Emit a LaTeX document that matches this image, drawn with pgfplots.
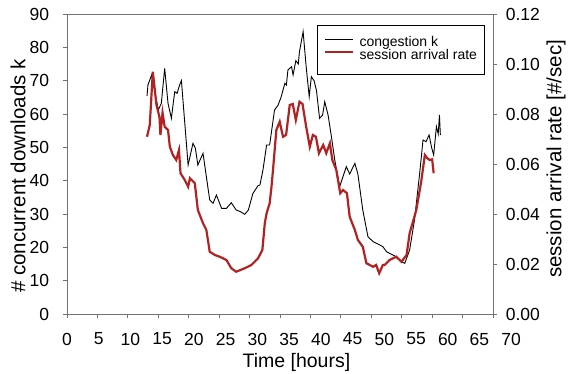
\documentclass[border=0pt]{standalone}
\usepackage{pgfplots}
\pgfplotsset{compat=1.18}
\usepackage{fontspec}
\setmainfont{Liberation Sans}
\definecolor{myred}{RGB}{178,34,34}
\definecolor{axgray}{RGB}{115,115,115}
\begin{document}
\fontsize{17}{20}\selectfont
\begin{tikzpicture}
\begin{axis}[
  at={(0,0)}, anchor=south west,
  scale only axis, width=426pt, height=300pt,
  xmin=0, xmax=70, ymin=0, ymax=90,
  xtick={0,5,10,15,20,25,30,35,40,45,50,55,60,65,70},
  ytick={0,10,20,30,40,50,60,70,80,90},
  axis line style={axgray, line width=0.8pt},
  tick style={axgray, line width=0.8pt},
  tick align=outside, major tick length=4pt,
  xtick pos=bottom, ytick pos=left,
  /pgf/number format/assume math mode=true,
  tick label style={font=\fontsize{17.5}{20}\selectfont},
  xticklabel style={yshift=-9pt, xshift=\ticknum*1.3pt},
  yticklabel style={xshift=-8pt},
  xlabel={Time [hours]}, ylabel={\# concurrent downloads k},
  xlabel style={font=\fontsize{19.5}{22}\selectfont, at={(axis description cs:0.5385,-0.163)}, anchor=center},
  ylabel style={font=\fontsize{20.5}{22}\selectfont, at={(axis description cs:-0.115,0.46)}, anchor=center},
]
\addplot[black, line width=0.9pt] coordinates {
(13.15,65.4) (13.3,68.7) (13.9,71.7) (14.4,67) (15.0,61.2) (15.5,63.2)
(16.05,73.7) (16.6,63.2) (17.15,58.7) (17.7,66.7) (18.1,66.2) (18.5,68.7)
(18.8,70) (19.9,44.7) (20.7,51.2) (21.1,49.7) (21.5,44.7) (22.35,48.2)
(23.45,34.2) (24.0,33.2) (24.55,35.7) (25.4,31.7) (26.2,31.7) (27.0,33.4)
(27.8,31.2) (28.5,30.7) (29.2,29.9) (29.8,31.2) (30.55,36.2) (31.4,38.5)
(31.7,38.7) (32.2,43.2) (32.8,50.7) (33.3,50.7) (34.1,61.2) (34.7,62.7)
(35.2,65.2) (35.8,69.2) (36.05,68.7) (36.3,73.2) (36.9,74.2) (37.15,71.7)
(37.6,76) (38.0,75) (38.2,78.7) (38.8,84.7) (39.3,74.2) (39.8,65.2)
(40.15,71.2) (40.6,70) (41.0,67) (41.5,58.7) (42.0,59.7) (42.35,63.7)
(42.9,59.7) (43.45,53.2) (44.0,46.2) (44.8,38.2) (45.35,41.2) (45.9,44.2)
(46.45,42) (47.3,45.2) (47.8,42) (48.6,31.2) (49.45,23.2) (50.3,21.7)
(51.1,21) (51.9,20.2) (52.5,18.7) (53.0,18.2) (54.1,17.2) (54.95,15.7)
(55.5,15.2) (56.3,19.2) (57.1,28.2) (57.95,42.2) (58.5,52.2) (59.0,51.7)
(59.5,53.7) (59.9,50) (60.25,47.7) (60.7,56.2) (61.0,54) (61.2,59.7)
(61.35,53.7)
};
\end{axis}
\begin{axis}[
  at={(0,0)}, anchor=south west,
  scale only axis, width=426pt, height=300pt,
  xmin=0, xmax=70, ymin=0, ymax=0.12,
  axis x line=none, axis y line*=right,
  axis line style={axgray, line width=0.8pt, -},
  tick style={axgray, line width=0.8pt},
  tick align=outside, major tick length=4pt,
  ytick={0,0.02,0.04,0.06,0.08,0.10,0.12},
  /pgf/number format/assume math mode=true,
  yticklabel style={font=\fontsize{17.5}{20}\selectfont, xshift=3pt,
    /pgf/number format/.cd, fixed, fixed zerofill, precision=2},
  scaled y ticks=false,
  ylabel={session arrival rate [\#/sec]},
  ylabel style={font=\fontsize{20.5}{22}\selectfont, at={(axis description cs:1.148,0.517)}, anchor=center, rotate=0},
  legend cell align=left,
  legend style={at={(axis description cs:0.587,0.963)}, anchor=north west,
    draw=black, line width=0.6pt, font=\fontsize{14}{16}\selectfont,
    inner xsep=7pt, inner ysep=11.5pt, row sep=-0.5pt, column sep=5pt,
    nodes={inner sep=0pt, text height=10pt, text depth=3pt}},
  legend image code/.code={\draw[#1] (0pt,3.5pt) -- (28pt,3.5pt);},
]
\addlegendimage{black, line width=0.9pt}
\addlegendentry{congestion k}
\addplot[myred, line width=2.2pt] coordinates {
(13.15,0.0709) (13.6,0.0756) (14.1,0.0969) (14.7,0.0836) (15.2,0.0787)
(15.35,0.0716) (15.7,0.0805) (16.05,0.0749) (16.6,0.0736) (16.9,0.0669)
(17.4,0.0636) (17.95,0.0616) (18.4,0.0656) (18.65,0.0563) (19.35,0.0536)
(19.9,0.0509) (20.2,0.0543) (21.0,0.0523) (21.5,0.0416) (22.35,0.0363)
(22.9,0.0336) (23.45,0.0249) (24.3,0.0236) (25.1,0.0229) (26.2,0.0216)
(27.0,0.0183) (27.8,0.0169) (28.5,0.0176) (29.2,0.0183) (30.3,0.0196)
(31.4,0.0223) (32.1,0.0256) (32.5,0.0363) (32.8,0.0403) (33.3,0.0443)
(33.6,0.0509) (33.85,0.0576) (34.4,0.0736) (34.95,0.0769) (35.5,0.0709)
(36.0,0.0716) (36.6,0.0836) (37.1,0.0840) (37.6,0.0776) (38.2,0.0849)
(38.7,0.0840) (39.3,0.0749) (39.9,0.0669) (40.4,0.0716) (40.9,0.0709)
(41.4,0.0643) (42.1,0.0676) (42.6,0.0643) (43.2,0.0683) (43.6,0.0616)
(44.25,0.0576) (44.9,0.0483) (45.35,0.0496) (46.0,0.0483) (46.45,0.0389)
(47.3,0.0336) (47.8,0.0296) (48.6,0.0269) (49.2,0.0203) (50.3,0.0189)
(50.8,0.0196) (51.3,0.0163) (51.9,0.0196) (52.2,0.0196) (53.0,0.0216)
(54.1,0.0229) (54.95,0.0209) (55.8,0.0236) (56.3,0.0323) (57.4,0.0416)
(58.2,0.0529) (58.8,0.0636) (59.2,0.0623) (59.6,0.0616) (60.0,0.0619)
(60.25,0.0563)
};
\addlegendentry{session arrival rate}
\end{axis}
\pgfresetboundingbox
\path[use as bounding box] (-67pt,-60pt) rectangle (503pt,314pt);
\end{tikzpicture}
\end{document}
